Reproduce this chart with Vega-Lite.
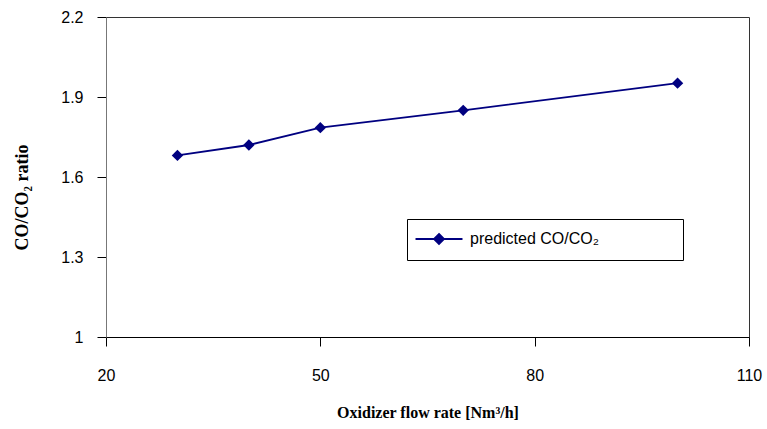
{
  "$schema": "https://vega.github.io/schema/vega-lite/v6.json",
  "autosize": "none",
  "width": 643,
  "height": 320,
  "padding": {"left": 106, "top": 17, "right": 18, "bottom": 92},
  "background": "white",
  "config": {
    "view": {"stroke": "#333333", "strokeWidth": 1},
    "font": "Liberation Sans"
  },
  "data": {
    "values": [
      {"flow": 30, "ratio": 1.681, "series": "predicted CO/CO₂"},
      {"flow": 40, "ratio": 1.72, "series": "predicted CO/CO₂"},
      {"flow": 50, "ratio": 1.785, "series": "predicted CO/CO₂"},
      {"flow": 70, "ratio": 1.85, "series": "predicted CO/CO₂"},
      {"flow": 100, "ratio": 1.952, "series": "predicted CO/CO₂"}
    ]
  },
  "mark": {"type": "line", "strokeWidth": 1.8, "point": {"shape": "diamond", "size": 130, "filled": true, "opacity": 1}},
  "encoding": {
    "x": {
      "field": "flow", "type": "quantitative",
      "scale": {"domain": [20, 110], "nice": false, "zero": false},
      "axis": {
        "values": [20, 50, 80, 110], "grid": false, "format": "d",
        "title": "Oxidizer flow rate [Nm³/h]",
        "titleFont": "Liberation Serif", "titleFontWeight": "bold", "titleFontSize": 16, "titleColor": "black",
        "titleBaseline": "alphabetic", "titleY": 80,
        "labelFont": "Liberation Sans", "labelFontSize": 16, "labelColor": "black", "labelPadding": 21,
        "tickSize": 9, "tickColor": "black", "domainColor": "black",
        "labelFlush": false
      }
    },
    "y": {
      "field": "ratio", "type": "quantitative",
      "scale": {"domain": [1, 2.2], "nice": false, "zero": false},
      "axis": {
        "values": [1, 1.3, 1.6, 1.9, 2.2], "grid": false, "format": "~g",
        "title": "CO/CO₂ ratio",
        "titleFont": "Liberation Serif", "titleFontWeight": "bold", "titleFontSize": 18, "titleColor": "black",
        "titleX": -84, "titleY": 180, "titleBaseline": "middle", "titleAngle": 270,
        "labelFont": "Liberation Sans", "labelFontSize": 16, "labelColor": "black", "labelPadding": 14,
        "tickSize": 9, "tickColor": "black", "domainColor": "#777777",
        "labelFlush": false
      }
    },
    "color": {
      "field": "series", "type": "nominal",
      "scale": {"range": ["#000080"]},
      "legend": {
        "title": null, "orient": "none", "legendX": 301, "legendY": 202,
        "strokeColor": "black", "padding": 12, "fillColor": "white",
        "symbolType": "M-4,0H4M0,-0.85L0.85,0L0,0.85L-0.85,0Z",
        "symbolSize": 138, "symbolStrokeWidth": 1.8, "symbolFillColor": "#000080", "symbolStrokeColor": "#000080",
        "symbolOffset": 12,
        "labelFont": "Liberation Sans", "labelFontSize": 16, "labelColor": "black", "labelOffset": 23,
        "labelExpr": "datum.label + '\u2800\u2800\u2800\u2800\u2800\u2800'", "labelLimit": 400
      }
    }
  }
}
